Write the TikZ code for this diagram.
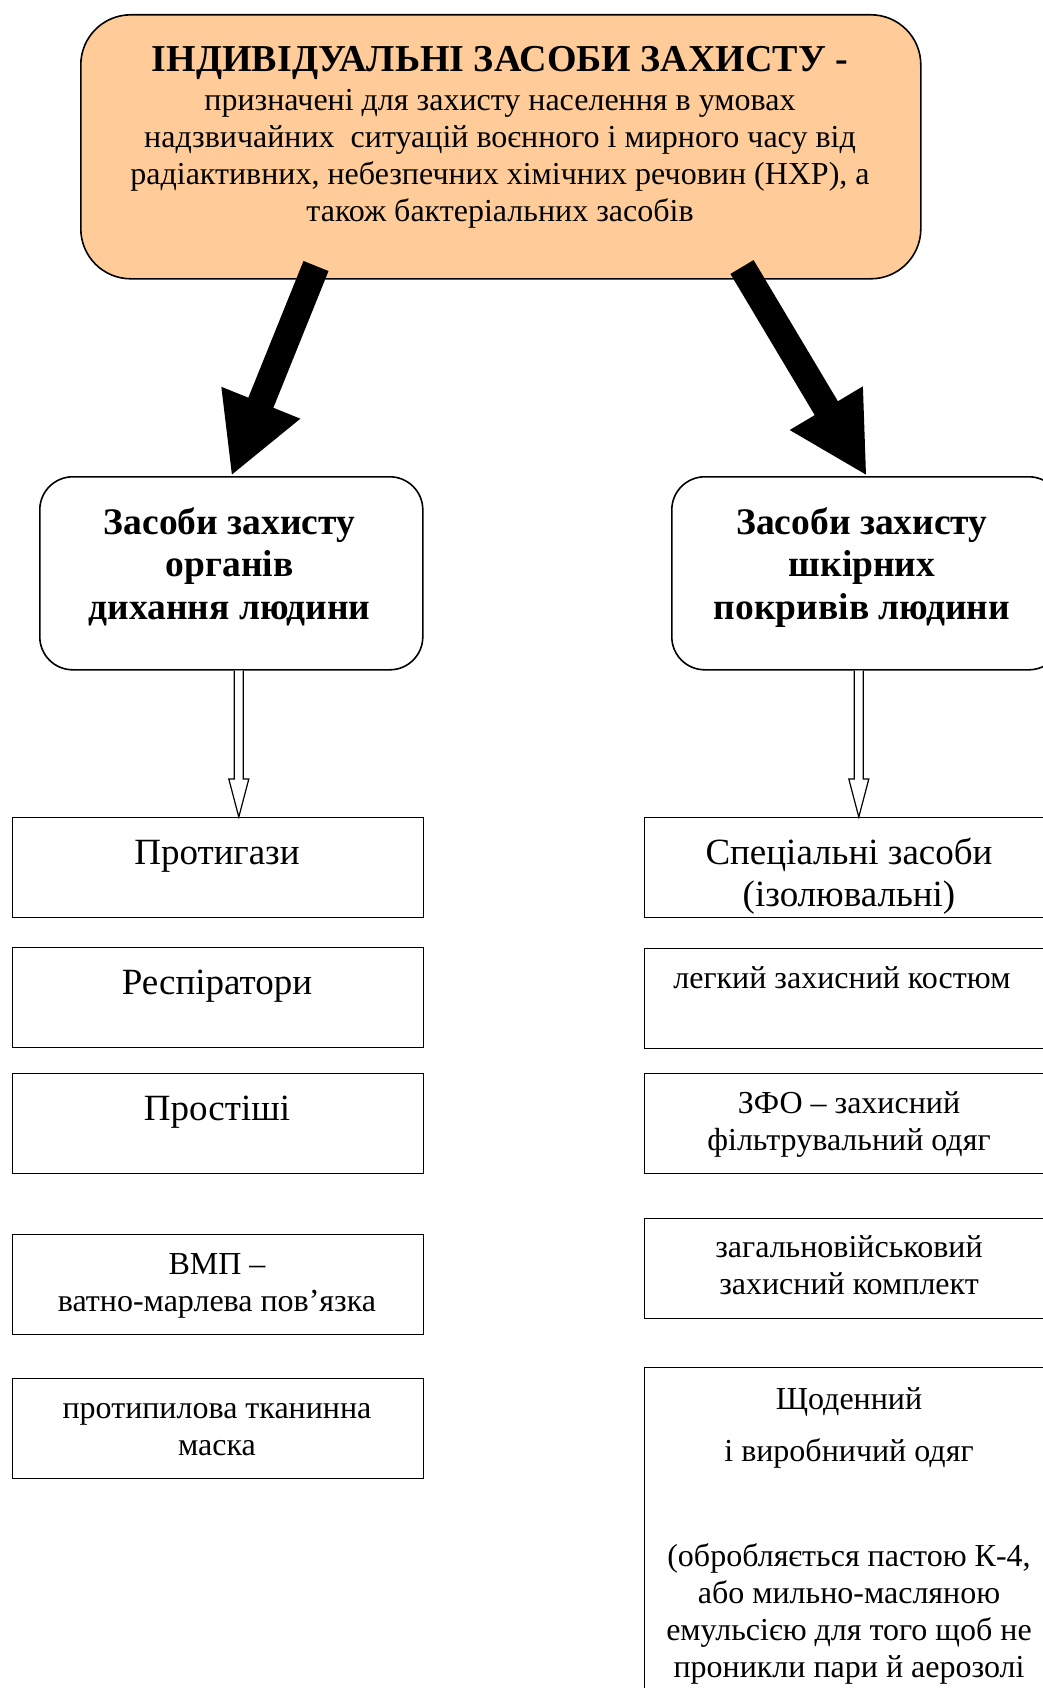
\documentclass[tikz,border=0pt]{standalone}
\usepackage{fontspec}
\setmainfont{Liberation Serif}
\usetikzlibrary{arrows.meta,calc}
\definecolor{peach}{RGB}{255,204,153}
\begin{document}
\begin{tikzpicture}[x=1pt,y=-1pt,
 rbox/.style={draw, line width=1.6pt, rounded corners=33pt, inner sep=0pt, anchor=north west},
 sbox/.style={draw, line width=1.1pt, inner sep=0pt, anchor=north west, minimum height=100pt},
 txt/.style={inner sep=0pt, align=center, anchor=base},
 bigf/.style={font=\fontsize{37}{42}\selectfont},
 smallf/.style={font=\fontsize{32}{37}\selectfont},
 boldf/.style={font=\fontsize{37.5}{42.5}\selectfont\bfseries},
 bigarrow/.style={line width=27pt, -{Triangle[length=79pt,width=79pt]}},
 hollow/.style={draw, line width=1.2pt, fill=white}]
\useasboundingbox[fill=white] (0,0) rectangle (1043,1688);

% top box
\node[rbox, fill=peach, rounded corners=50pt, minimum width=840pt, minimum height=264pt] (top) at (80,14) {};
\node[txt, font=\fontsize{38}{40}\selectfont\bfseries] (ttl) at (500,72) {ІНДИВІДУАЛЬНІ ЗАСОБИ ЗАХИСТУ -};
\node[txt, smallf] (tdesc) at (500,222) {призначені для захисту населення в умовах\\надзвичайних\ \ ситуацій воєнного і мирного часу від\\радіактивних, небезпечних хімічних речовин (НХР), а\\також бактеріальних засобів};

% middle boxes
\node[rbox, minimum width=383pt, minimum height=193pt] (L) at (39,476) {};
\node[txt, boldf] (Lt) at (229.5,619) {Засоби захисту\\органів\\дихання людини};
\node[rbox, minimum width=390pt, minimum height=193pt] (R) at (671,476) {};
\node[txt, boldf] (Rt) at (862,619) {Засоби захисту\\шкірних\\покривів людини};

% big arrows
\coordinate (a1s) at (316,266);
\coordinate (a2s) at (742,267);
\draw[bigarrow] (a1s) -- (L.north);
\draw[bigarrow] (a2s) -- (R.north);

% left column
\node[sbox, minimum width=411pt] (B1) at (12,817) {};
\node[txt, bigf] (B1t) at (217,864) {Протигази};
\node[sbox, minimum width=411pt] (B2) at (12,947) {};
\node[txt, bigf] (B2t) at (217,994) {Респіратори};
\node[sbox, minimum width=411pt] (B3) at (12,1073) {};
\node[txt, bigf] (B3t) at (217,1120) {Простіші};
\node[sbox, minimum width=411pt] (B4) at (12,1234) {};
\node[txt, smallf] (B4t) at (217,1311) {ВМП –\\ватно-марлева пов’язка};
\node[sbox, minimum width=411pt] (B5) at (12,1378) {};
\node[txt, smallf] (B5t) at (217,1455) {протипилова тканинна\\маска};

% right column
\node[sbox, minimum width=415pt] (S1) at (644,817) {};
\node[txt, bigf] (S1t) at (849,906) {Спеціальні засоби\\(ізолювальні)};
\node[sbox, minimum width=415pt] (S2) at (644,948) {};
\node[txt, smallf] (S2t) at (842,988) {легкий захисний костюм};
\node[sbox, minimum width=415pt] (S3) at (644,1073) {};
\node[txt, smallf] (S3t) at (849,1150) {ЗФО – захисний\\фільтрувальний одяг};
\node[sbox, minimum width=415pt] (S4) at (644,1218) {};
\node[txt, smallf] (S4t) at (849,1294) {загальновійськовий\\захисний комплект};
\node[sbox, minimum width=415pt, minimum height=340pt] (S5) at (644,1367) {};
\node[txt, smallf] (S5t) at (849,1677) {Щоденний\\[15pt]і виробничий одяг\\[68pt](обробляється пастою К-4,\\або мильно-масляною\\емульсією для того щоб не\\проникли пари й аерозолі};

% hollow arrows
\coordinate (h1s) at ($(L.south)+(7.5,0)$);
\coordinate (h1e) at (h1s |- B1.north);
\coordinate (h2s) at ($(R.south)+(-8,0)$);
\coordinate (h2e) at (h2s |- S1.north);
\draw[hollow] ($(h1s)+(-4.5,0)$) -- ($(h1e)+(-4.5,-38)$) -- ($(h1e)+(-10,-38)$) -- (h1e) -- ($(h1e)+(10,-38)$) -- ($(h1e)+(4.5,-38)$) -- ($(h1s)+(4.5,0)$);
\draw[hollow] ($(h2s)+(-4.5,0)$) -- ($(h2e)+(-4.5,-38)$) -- ($(h2e)+(-10,-38)$) -- (h2e) -- ($(h2e)+(10,-38)$) -- ($(h2e)+(4.5,-38)$) -- ($(h2s)+(4.5,0)$);
\end{tikzpicture}
\end{document}
